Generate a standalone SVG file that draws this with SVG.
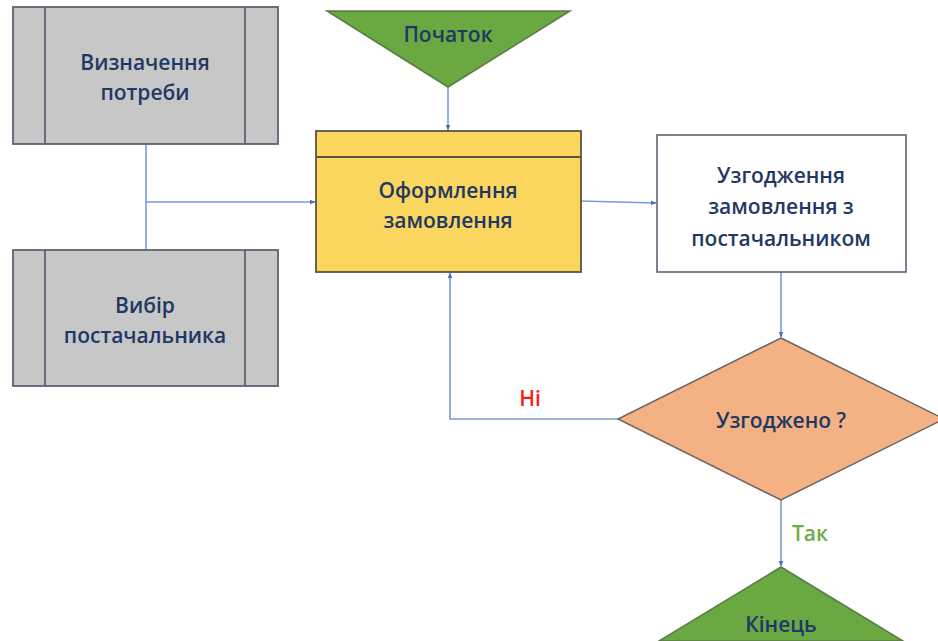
<svg xmlns="http://www.w3.org/2000/svg" width="938" height="641" viewBox="0 0 938 641">
<defs>
<style>
.t{font-family:"Open Sans","Noto Sans","Liberation Sans",sans-serif;font-size:21px;font-weight:600;fill:#1f3864;text-anchor:middle;dominant-baseline:central}
.l{font-family:"Open Sans","Noto Sans","Liberation Sans",sans-serif;font-size:21px;font-weight:600;text-anchor:middle;dominant-baseline:central}
.c{fill:none;stroke:#7b9bd6;stroke-width:1.6}
.g{fill:#c7c7c7;stroke:#5b6372;stroke-width:1.8}
</style>
<marker id="a" viewBox="0 0 10 10" refX="9" refY="5" markerWidth="6" markerHeight="6" orient="auto" markerUnits="userSpaceOnUse">
<path d="M0,1 L10,5 L0,9 z" fill="#3f6fc6"/>
</marker>
</defs>
<rect width="938" height="641" fill="#ffffff"/>
<g id="connectors">
<path class="c" d="M146,144 V250"/>
<path class="c" d="M146,202 H315" marker-end="url(#a)"/>
<path class="c" d="M448,87 V130" marker-end="url(#a)"/>
<path class="c" d="M581,201 L656,203" marker-end="url(#a)"/>
<path class="c" d="M781,272 V337" marker-end="url(#a)"/>
<path class="c" d="M618,419 H450 V273" marker-end="url(#a)"/>
<path class="c" d="M781,500 V566" marker-end="url(#a)"/>
<text class="l" x="530" y="398" fill="#ff1a1a">Ні</text>
<text class="l" x="810" y="533" fill="#70ad47">Так</text>
</g>
<g id="need">
<rect class="g" x="13" y="7" width="265" height="137"/>
<line class="g" x1="45" y1="7" x2="45" y2="144"/>
<line class="g" x1="245" y1="7" x2="245" y2="144"/>
<text class="t" x="145" y="62">Визначення</text>
<text class="t" x="145" y="92">потреби</text>
</g>
<g id="supplier">
<rect class="g" x="13" y="250" width="265" height="136"/>
<line class="g" x1="45" y1="250" x2="45" y2="386"/>
<line class="g" x1="245" y1="250" x2="245" y2="386"/>
<text class="t" x="145" y="305">Вибір</text>
<text class="t" x="145" y="335">постачальника</text>
</g>
<g id="start">
<polygon points="327,11 570,11 448,87" fill="#6aa842" stroke="#5b7a47" stroke-width="1.5"/>
<text class="t" x="448" y="34">Початок</text>
</g>
<g id="order">
<rect x="316" y="131" width="265" height="141" fill="#fad65e" stroke="#5b5640" stroke-width="1.8"/>
<line x1="316" y1="157" x2="581" y2="157" stroke="#5b5640" stroke-width="1.8"/>
<text class="t" x="448" y="190">Оформлення</text>
<text class="t" x="448" y="220">замовлення</text>
</g>
<g id="agree">
<rect x="657" y="135" width="249" height="137" fill="#ffffff" stroke="#5b6372" stroke-width="1.6"/>
<text class="t" x="781" y="175">Узгодження</text>
<text class="t" x="781" y="206">замовлення з</text>
<text class="t" x="781" y="238">постачальником</text>
</g>
<g id="decision">
<polygon points="781,338 944,419 781,500 618,419" fill="#f4b183" stroke="#6b6460" stroke-width="1.5"/>
<text class="t" x="781" y="420">Узгоджено ?</text>
</g>
<g id="end">
<polygon points="781,567 903,641 659,641" fill="#6aa842" stroke="#5b7a47" stroke-width="1.5"/>
<text class="t" x="781" y="624">Кінець</text>
</g>
</svg>
